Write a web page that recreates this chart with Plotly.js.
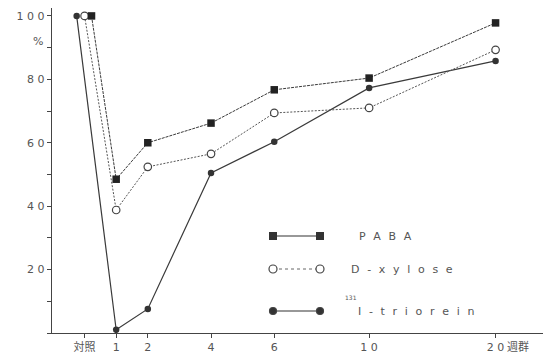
<!DOCTYPE html>
<html><head><meta charset="utf-8">
<script src="https://cdn.plot.ly/plotly-3.0.1.min.js"></script>
<style>html,body{margin:0;padding:0;background:#fff}#chart{width:546px;height:357px}</style>
</head><body><div id="chart"></div>
<script>
// Group labels and their places on the (uneven) week axis
const categories = ['対照', '1', '2', '4', '6', '1 0', '2 0'];
const weekPos = [0, 1, 2, 4, 6, 9, 13];
// Values (%)
const paba = [100, 48.5, 60, 66.2, 76.7, 80.4, 97.8];
const xylose = [100, 38.8, 52.4, 56.5, 69.4, 71, 89.3];
const triolein = [100, 1, 7.6, 50.5, 60.3, 77.3, 85.8];
const yTicks = [0, 10, 20, 30, 40, 50, 60, 70, 80, 90, 100];
const yTickText = ['', '', '2 0', '', '4 0', '', '6 0', '', '8 0', '', '1 0 0'];

// control points are drawn slightly apart so they do not overlap
function xs(shift) { return weekPos.map((p, i) => i === 0 ? p + shift : p); }

const lineCol = '#3a3a3a';
const traces = [
  {x: xs(-0.25), y: triolein, mode: 'lines+markers', name: '131I-triorein',
   line: {color: lineCol, width: 1.2},
   marker: {symbol: 'circle', size: 6.5, color: '#333'}},
  {x: xs(0), y: xylose, mode: 'lines+markers', name: 'D-xylose',
   line: {color: '#555', width: 1, dash: '2px,1.5px'},
   marker: {symbol: 'circle', size: 7.5, color: '#fff', line: {color: '#444', width: 1.2}}},
  {x: xs(0.22), y: paba, mode: 'lines+markers', name: 'PABA',
   line: {color: lineCol, width: 1, dash: '3px,1px'},
   marker: {symbol: 'square', size: 7.5, color: '#222'}}
];

// plot area in pixels: x 52..543, y 8..333
const L = 52, R = 543, T = 8, B = 333;
const px = v => (v - L) / (R - L);
const py = v => (B - v) / (B - T);
const spread = s => s.split('').filter(c => c !== ' ').join('\u2002\u2009');

const shapes = [];
const annotations = [];
const fnt = {family: 'DejaVu Sans, sans-serif', size: 11, color: '#555'};

function legendRow(yPix, kind, label, labelX) {
  const x1 = 273, x2 = 320;
  shapes.push({type: 'line', xref: 'paper', yref: 'paper', x0: px(x1), x1: px(x2), y0: py(yPix), y1: py(yPix),
    line: {color: kind === 'open' ? '#666' : '#333', width: kind === 'open' ? 1 : 1.2, dash: kind === 'open' ? 'dot' : 'solid'}});
  [x1, x2].forEach(c => {
    if (kind === 'square') {
      shapes.push({type: 'rect', xref: 'paper', yref: 'paper', x0: px(c - 4), x1: px(c + 4), y0: py(yPix + 4), y1: py(yPix - 4),
        fillcolor: '#333', line: {width: 0}});
    } else {
      const r = kind === 'open' ? 4 : 3.5;
      shapes.push({type: 'circle', xref: 'paper', yref: 'paper', x0: px(c - r), x1: px(c + r), y0: py(yPix + r), y1: py(yPix - r),
        fillcolor: kind === 'open' ? '#fff' : '#333', line: {color: '#444', width: 1.2}});
    }
  });
  annotations.push({xref: 'paper', yref: 'paper', x: px(labelX), y: py(yPix), xanchor: 'left', yanchor: 'middle',
    text: spread(label), showarrow: false, font: fnt});
}
legendRow(236, 'square', 'PABA', 357);
legendRow(269, 'open', 'D-xylose', 349);
legendRow(311, 'filled', 'I-triorein', 356);
annotations.push({xref: 'paper', yref: 'paper', x: px(343), y: py(297), xanchor: 'left', yanchor: 'middle',
  text: '131', showarrow: false, font: {family: 'DejaVu Sans, sans-serif', size: 6, color: '#555'}});
annotations.push({xref: 'paper', yref: 'paper', x: px(38), y: py(41), xanchor: 'center', yanchor: 'middle',
  text: '%', showarrow: false, font: fnt});
annotations.push({xref: 'paper', yref: 'paper', x: px(505), y: py(346), xanchor: 'left', yanchor: 'middle',
  text: '週群', showarrow: false, font: {family: 'Noto Sans CJK JP, sans-serif', size: 11, color: '#555'}});

const layout = {
  width: 546, height: 357,
  margin: {l: L, r: 546 - R, t: T, b: 357 - B, pad: 0},
  paper_bgcolor: '#fff', plot_bgcolor: '#fff',
  showlegend: false,
  font: {family: 'DejaVu Sans, Noto Sans CJK JP, sans-serif', size: 11, color: '#555'},
  xaxis: {range: [-1.03, 14.5], showgrid: false, zeroline: false, showline: true, linecolor: '#444', linewidth: 1.2,
    tickmode: 'array', tickvals: weekPos, ticktext: categories, ticks: 'outside', ticklen: 4, tickcolor: '#444',
    tickfont: {family: 'DejaVu Sans, Noto Sans CJK JP, sans-serif', size: 11, color: '#555'}},
  yaxis: {range: [0, 102.5], showgrid: false, zeroline: false, showline: true, linecolor: '#444', linewidth: 1.2,
    tickmode: 'array', tickvals: yTicks, ticktext: yTickText, ticks: 'outside', ticklen: 4, tickcolor: '#444',
    tickfont: {family: 'DejaVu Sans, sans-serif', size: 11, color: '#555'}},
  shapes: shapes, annotations: annotations
};
Plotly.newPlot('chart', traces, layout, {displayModeBar: false, staticPlot: true});
</script>
</body></html>
